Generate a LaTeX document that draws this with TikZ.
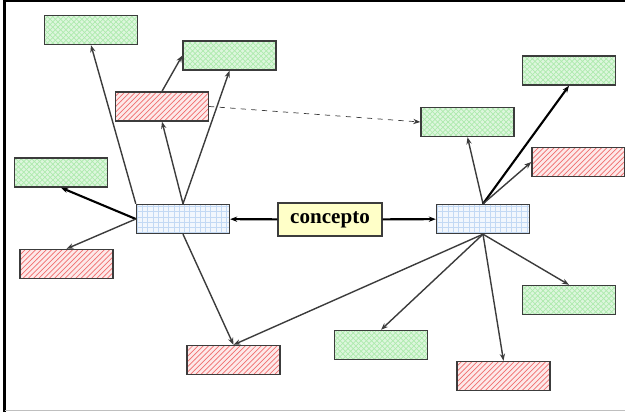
\documentclass[tikz,border=0pt]{standalone}
\usepackage{tikz}
\usepackage{fontspec}
\setmainfont{Liberation Serif}
\usetikzlibrary{arrows.meta, patterns}
\definecolor{mapverde}{RGB}{120, 220, 120}
\definecolor{maprojo}{RGB}{240, 110, 110}
\definecolor{mapazul}{RGB}{170, 200, 240}
\definecolor{mapamarillo}{RGB}{255, 255, 200}
\definecolor{maplinea}{RGB}{60, 60, 60}

\begin{document}
\begin{tikzpicture}[
    x=0.02cm, y=-0.02cm,
    caja/.style={draw=maplinea, thick, minimum width=1.86cm, minimum height=0.58cm, inner sep=0pt},
    verde/.style={caja, preaction={fill=mapverde!25}, pattern=crosshatch, pattern color=mapverde!60},
    rojo/.style={caja, preaction={fill=maprojo!15}, pattern=north east lines, pattern color=maprojo},
    azul/.style={caja, preaction={fill=mapazul!15}, pattern=grid, pattern color=mapazul!70},
    flecha/.style={-{Stealth[length=4pt, width=3pt]}, draw=maplinea, thick},
    gruesa/.style={flecha, very thick, draw=black}
]

% === Marco ===
\useasboundingbox (0,0) rectangle (625,412);
\draw[black, line width=1.5pt] (4.5,412) -- (4.5,1) -- (625,1);
\draw[gray!50, line width=0.8pt] (4.5,410.5) -- (625,410.5);

% === Conceptos ===
\node[draw=maplinea, thick, fill=mapamarillo, minimum width=2.08cm, minimum height=0.66cm,
      font=\large\bfseries] (c) at (330,219.5) {concepto};

\node[azul] (l) at (183,219) {};
\node[azul] (r) at (483,219) {};

% === Izquierda ===
\node[verde] (g1) at (91,30) {};
\node[verde] (g2) at (229.5,55.5) {};
\node[rojo]  (r1) at (162,106.5) {};
\node[verde] (g3) at (61,172.5) {};
\node[rojo]  (r2) at (66.5,264) {};
\node[rojo]  (r3) at (233.5,360) {};

% === Derecha ===
\node[verde] (g4) at (569,70.5) {};
\node[verde] (g5) at (467.5,122) {};
\node[rojo]  (r4) at (578.5,162) {};
\node[verde] (g6) at (569,300) {};
\node[verde] (g7) at (381,345) {};
\node[rojo]  (r5) at (503.5,376) {};

% === Flechas ===
\draw[gruesa] (c) -- (l);
\draw[gruesa] (c) -- (r);

\draw[flecha] (l.north west) -- (g1.south);
\draw[flecha] (l.north) -- (r1.south);
\draw[flecha] (l.north) -- (g2.south);
\draw[flecha] (r1.north) -- (g2.west);
\draw[gruesa] (l.west) -- (g3.south);
\draw[flecha] (l.west) -- (r2.north);
\draw[flecha] (l.south) -- (r3.north);
\draw[flecha, thin, dashed] (r1.east) -- (g5.west);

\draw[flecha] (r.north) -- (g5.south);
\draw[gruesa] (r.north) -- (g4.south);
\draw[flecha] (r.north) -- (r4.west);
\draw[flecha] (r.south) -- (g6.north);
\draw[flecha] (r.south) -- (g7.north);
\draw[flecha] (r.south) -- (r5.north);
\draw[flecha] (r.south) -- (r3.north);

\end{tikzpicture}
\end{document}
